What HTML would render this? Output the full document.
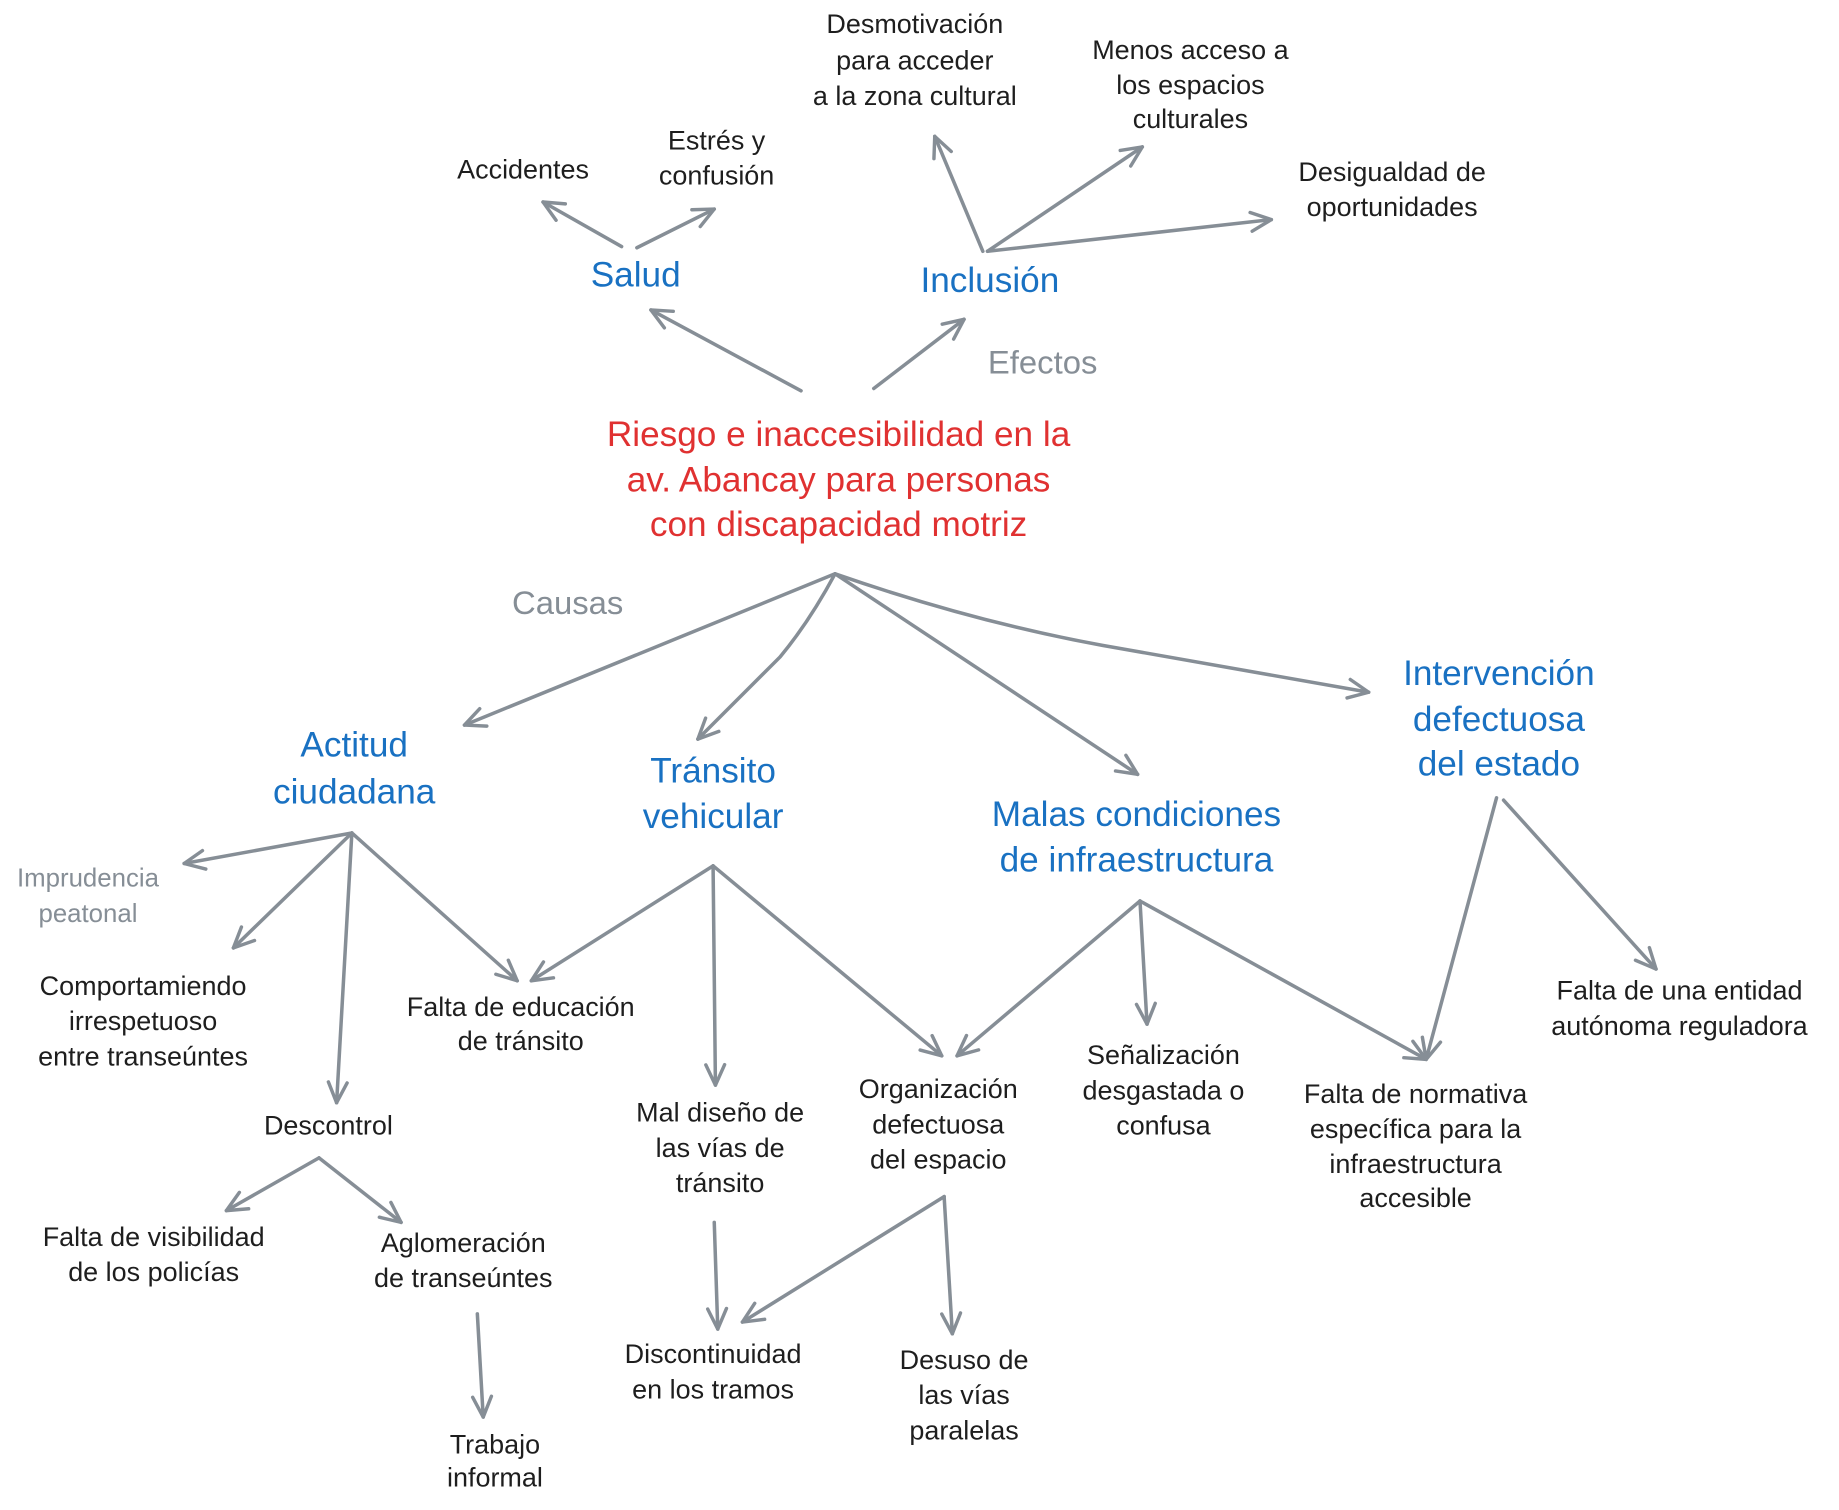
<!DOCTYPE html>
<html><head><meta charset="utf-8"><style>
html,body{margin:0;padding:0;background:#fff;}
svg{display:block}
text{font-family:"Liberation Sans",sans-serif;text-anchor:middle;dominant-baseline:middle;}
.n{font-size:23px;fill:#1e1e1e}
.b{font-size:30px;fill:#1971c2}
.g{font-size:28px;fill:#868e96}
.gs{font-size:22px;fill:#868e96}
.r{font-size:30px;fill:#e03131}
</style></head><body>
<svg width="1839" height="1510" viewBox="0 0 1568 1287" xmlns="http://www.w3.org/2000/svg">
<defs><marker id="a" viewBox="0 0 12 12" refX="11" refY="6" markerWidth="16" markerHeight="16" markerUnits="userSpaceOnUse" orient="auto" style="overflow:visible">
<path d="M-2,0 L11,6 L-2,12" fill="none" stroke="#868e96" stroke-width="2.2" stroke-linecap="round" stroke-linejoin="round"/></marker></defs>
<g fill="none" stroke="#868e96" stroke-width="3" stroke-linecap="round" marker-end="url(#a)">
<path d="M530,210 L463,172"/><path d="M543,211 L609,178"/>
<path d="M683,333 L555,264"/><path d="M745,331 L822,272"/>
<path d="M838,214 L797,116"/><path d="M842,214 L974,125"/><path d="M842,214 L1084,187"/>
<path d="M712,489 L396,618"/><path d="M712,489 Q690,530 665,560 L595,630"/>
<path d="M712,489 L970,660"/><path d="M712,489 Q830,530 940,550 L1167,590"/>
<path d="M300,710 L157,736"/><path d="M300,710 L199,808"/><path d="M300,710 L287,940"/><path d="M300,710 L441,836"/>
<path d="M608,738 L453,836"/><path d="M608,738 L610,925"/><path d="M608,738 L803,900"/>
<path d="M972,768 L816,900"/><path d="M972,768 L978,873"/><path d="M972,768 L1216,903"/>
<path d="M1276,680 L1216,903"/><path d="M1282,682 L1412,826"/>
<path d="M272,987 L193,1032"/><path d="M272,987 L342,1042"/>
<path d="M407,1120 L412,1208"/><path d="M609,1042 L612,1133"/>
<path d="M805,1020 L633,1127"/><path d="M805,1020 L812,1137"/>
</g>
<text class="n" x="780" y="22">Desmotivación</text><text class="n" x="780" y="53">para acceder</text><text class="n" x="780" y="83">a la zona cultural</text>
<text class="n" x="1015" y="44">Menos acceso a</text><text class="n" x="1015" y="74">los espacios</text><text class="n" x="1015" y="103">culturales</text>
<text class="n" x="1187" y="148">Desigualdad de</text><text class="n" x="1187" y="178">oportunidades</text>
<text class="n" x="446" y="146">Accidentes</text>
<text class="n" x="611" y="121">Estrés y</text><text class="n" x="611" y="151">confusión</text>
<text class="b" x="542" y="236">Salud</text>
<text class="b" x="844" y="241">Inclusión</text>
<text class="g" x="889" y="311">Efectos</text>
<text class="r" x="715" y="372">Riesgo e inaccesibilidad en la</text>
<text class="r" x="715" y="411">av. Abancay para personas</text>
<text class="r" x="715" y="449">con discapacidad motriz</text>
<text class="g" x="484" y="516">Causas</text>
<text class="b" x="302" y="637">Actitud</text><text class="b" x="302" y="677">ciudadana</text>
<text class="b" x="608" y="659">Tránsito</text><text class="b" x="608" y="698">vehicular</text>
<text class="b" x="969" y="696">Malas condiciones</text><text class="b" x="969" y="735">de infraestructura</text>
<text class="b" x="1278" y="576">Intervención</text><text class="b" x="1278" y="615">defectuosa</text><text class="b" x="1278" y="653">del estado</text>
<text class="gs" x="75" y="750">Imprudencia</text><text class="gs" x="75" y="780">peatonal</text>
<text class="n" x="122" y="842">Comportamiendo</text><text class="n" x="122" y="872">irrespetuoso</text><text class="n" x="122" y="902">entre transeúntes</text>
<text class="n" x="444" y="860">Falta de educación</text><text class="n" x="444" y="889">de tránsito</text>
<text class="n" x="280" y="961">Descontrol</text>
<text class="n" x="131" y="1056">Falta de visibilidad</text><text class="n" x="131" y="1086">de los policías</text>
<text class="n" x="395" y="1061">Aglomeración</text><text class="n" x="395" y="1091">de transeúntes</text>
<text class="n" x="422" y="1233">Trabajo</text><text class="n" x="422" y="1261">informal</text>
<text class="n" x="614" y="950">Mal diseño de</text><text class="n" x="614" y="980">las vías de</text><text class="n" x="614" y="1010">tránsito</text>
<text class="n" x="800" y="930">Organización</text><text class="n" x="800" y="960">defectuosa</text><text class="n" x="800" y="990">del espacio</text>
<text class="n" x="608" y="1156">Discontinuidad</text><text class="n" x="608" y="1186">en los tramos</text>
<text class="n" x="822" y="1161">Desuso de</text><text class="n" x="822" y="1191">las vías</text><text class="n" x="822" y="1221">paralelas</text>
<text class="n" x="992" y="901">Señalización</text><text class="n" x="992" y="931">desgastada o</text><text class="n" x="992" y="961">confusa</text>
<text class="n" x="1207" y="934">Falta de normativa</text><text class="n" x="1207" y="964">específica para la</text><text class="n" x="1207" y="994">infraestructura</text><text class="n" x="1207" y="1023">accesible</text>
<text class="n" x="1432" y="846">Falta de una entidad</text><text class="n" x="1432" y="876">autónoma reguladora</text>
</svg>
</body></html>
